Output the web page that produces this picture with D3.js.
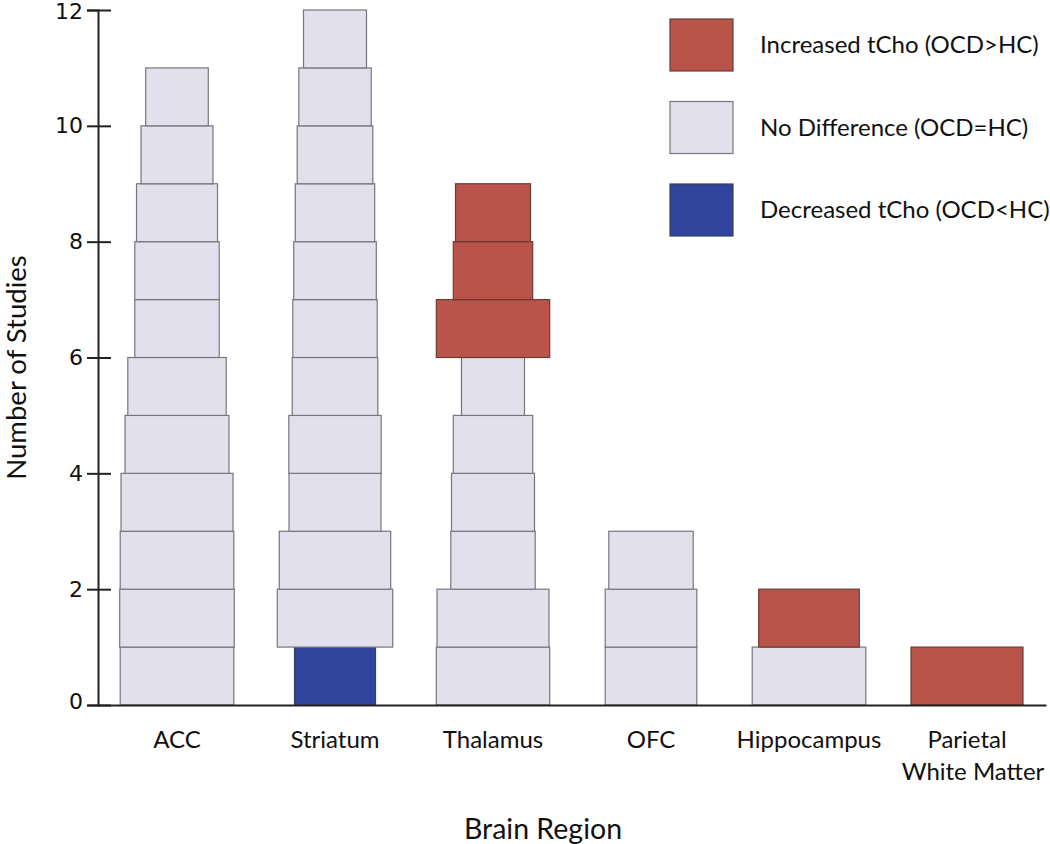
<!DOCTYPE html>
<html>
<head>
<meta charset="utf-8">
<script src="https://cdn.jsdelivr.net/npm/d3@7"></script>
<style>
  html, body { margin: 0; padding: 0; background: #fff; }
  svg { display: block; }
</style>
</head>
<body>
<svg id="chart" width="1050" height="844"></svg>
<script>
// ---------- DATA ----------
const regions = ["ACC", "Striatum", "Thalamus", "OFC", "Hippocampus", "Parietal White Matter"];
const regionLabels = [["ACC"], ["Striatum"], ["Thalamus"], ["OFC"], ["Hippocampus"], ["Parietal", "White Matter"]];

// Studies per region, stacked from the bottom up.
// result: "inc" = Increased tCho, "nd" = No Difference, "dec" = Decreased tCho
// size: relative study size (controls block width)
const accResult = ["nd","nd","nd","nd","nd","nd","nd","nd","nd","nd","nd"];
const accSize   = [56.8, 57.3, 56.8, 56, 52, 49.2, 42.2, 42.2, 40.5, 36, 31.3];

const striatumResult = ["dec","nd","nd","nd","nd","nd","nd","nd","nd","nd","nd","nd"];
const striatumSize   = [40.5, 57.7, 55.7, 46, 46.2, 42.8, 42.2, 41.3, 39.7, 37.8, 36.2, 31.5];

const thalamusResult = ["nd","nd","nd","nd","nd","nd","inc","inc","inc"];
const thalamusSize   = [56.7, 56, 42.2, 41.5, 39.7, 31.5, 56.7, 39.7, 37.5];

const ofcResult = ["nd","nd","nd"];
const ofcSize   = [45.8, 45.8, 42.2];

const hippocampusResult = ["nd","inc"];
const hippocampusSize   = [56.8, 50.3];

const parietalResult = ["inc"];
const parietalSize   = [56];

const yTicks = [0, 2, 4, 6, 8, 10, 12];

const legendKeys   = ["inc", "nd", "dec"];
const legendLabels = ["Increased tCho (OCD>HC)", "No Difference (OCD=HC)", "Decreased tCho (OCD<HC)"];

// ---------- BUILD ----------
const resultsByRegion = [accResult, striatumResult, thalamusResult, ofcResult, hippocampusResult, parietalResult];
const sizesByRegion   = [accSize, striatumSize, thalamusSize, ofcSize, hippocampusSize, parietalSize];

const blocks = [];
regions.forEach((r, i) => {
  resultsByRegion[i].forEach((res, j) => {
    blocks.push({ region: r, level: j, result: res, size: sizesByRegion[i][j] });
  });
});

const color = d3.scaleOrdinal()
  .domain(["inc", "nd", "dec"])
  .range(["#B9544A", "#E2E0ED", "#2E449D"]);
const strokeColor = d3.scaleOrdinal()
  .domain(["inc", "nd", "dec"])
  .range(["#6d3b36", "#77767d", "#3a3f5e"]);

const svg = d3.select("#chart");

const x = d3.scaleBand().domain(regions).range([98, 1046]).padding(0);
const y = d3.scaleLinear().domain([0, 12]).range([705, 10]);
const w = d3.scaleLinear().domain([0, 60]).range([0, 120]);

const TEXT_FONT = "Lato, 'Open Sans', sans-serif";
const TEXT_COLOR = "#111";

// blocks
svg.append("g")
  .selectAll("rect")
  .data(blocks)
  .join("rect")
  .attr("x", d => x(d.region) + x.bandwidth() / 2 - w(d.size) / 2)
  .attr("width", d => w(d.size))
  .attr("y", d => y(d.level + 1))
  .attr("height", d => y(d.level) - y(d.level + 1))
  .attr("fill", d => color(d.result))
  .attr("stroke", d => strokeColor(d.result))
  .attr("stroke-width", 1.2);

// y axis
const yAxis = svg.append("g")
  .attr("transform", `translate(${x.range()[0]},0)`)
  .call(d3.axisLeft(y).tickValues(yTicks).tickSize(11).tickPadding(4).tickFormat(d3.format("d")));
yAxis.select(".domain").attr("stroke", "#222").attr("stroke-width", 2);
yAxis.selectAll(".tick line").attr("stroke", "#222").attr("stroke-width", 2);
yAxis.selectAll(".tick").append("line")
  .attr("x1", 0).attr("x2", 13)
  .attr("stroke", "#222").attr("stroke-width", 2);
yAxis.selectAll(".tick text")
  .attr("fill", TEXT_COLOR)
  .style("font-family", "'DejaVu Sans', Verdana, sans-serif")
  .style("font-size", "22px");
yAxis.selectAll(".tick").filter(d => d === 0).select("text").attr("dy", "0.15em");
yAxis.selectAll(".tick").filter(d => d === 12).select("text").attr("dy", "0.38em");

// x axis
const xAxis = svg.append("g")
  .attr("transform", `translate(0,${y(0)})`)
  .call(d3.axisBottom(x).tickSize(0).tickPadding(0).tickFormat(""));
xAxis.select(".domain").attr("stroke", "#222").attr("stroke-width", 2);
xAxis.selectAll(".tick").each(function(d, i) {
  const t = d3.select(this).append("text")
    .attr("text-anchor", "middle")
    .attr("fill", TEXT_COLOR)
    .style("font-family", TEXT_FONT)
    .style("font-size", "24px");
  regionLabels[i].forEach((line, k) => {
    t.append("tspan").attr("x", k ? 6 : 0).attr("y", 43 + k * 32).text(line);
  });
});

// axis titles
svg.append("text")
  .attr("x", 543)
  .attr("y", 839)
  .attr("text-anchor", "middle")
  .attr("fill", TEXT_COLOR)
  .style("font-family", TEXT_FONT)
  .style("font-size", "28.5px")
  .text("Brain Region");

svg.append("text")
  .attr("transform", `translate(26,${(y(0) + y(12)) / 2 + 10}) rotate(-90)`)
  .attr("text-anchor", "middle")
  .attr("fill", TEXT_COLOR)
  .style("font-family", TEXT_FONT)
  .style("font-size", "27.5px")
  .text("Number of Studies");

// legend
const legendY = d3.scalePoint().domain(legendKeys).range([45, 210]);
const lg = svg.append("g").selectAll("g")
  .data(legendKeys)
  .join("g")
  .attr("transform", d => `translate(670,${legendY(d)})`);
lg.append("rect")
  .attr("x", 0).attr("y", -26)
  .attr("width", 63).attr("height", 52)
  .attr("fill", d => color(d))
  .attr("stroke", d => strokeColor(d))
  .attr("stroke-width", 1.2);
lg.append("text")
  .attr("x", 90).attr("y", 0).attr("dy", "0.35em")
  .attr("fill", TEXT_COLOR)
  .style("font-family", TEXT_FONT)
  .style("font-size", "24px")
  .text((d, i) => legendLabels[i]);
</script>
</body>
</html>
